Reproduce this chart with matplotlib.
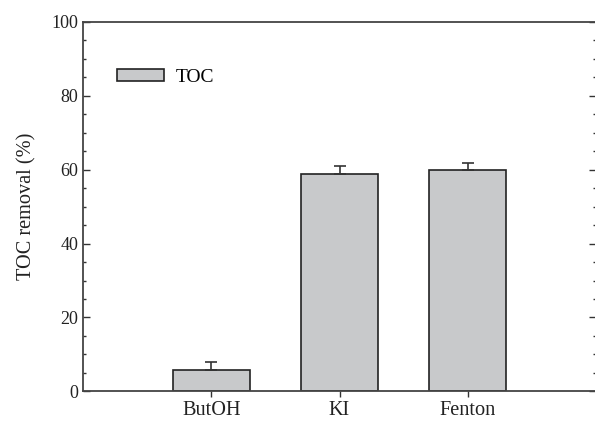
import numpy as np
import matplotlib.pyplot as plt
from matplotlib.ticker import MultipleLocator

plt.rcParams['font.family'] = ['Liberation Serif', 'DejaVu Serif']
plt.rcParams['font.size'] = 13

# TOC removal for each scavenger / system
labels = ['ButOH', 'KI', 'Fenton']
toc_removal = [5.9, 58.9, 59.8]
toc_err = [2.0, 2.2, 2.1]

x = np.arange(1, len(labels) + 1)

fig = plt.figure(figsize=(5.95, 4.21), dpi=100)
ax = fig.add_axes([83 / 595, 1 - 391.3 / 421, (596 - 83) / 595, (391.3 - 22) / 421])

ax.bar(x, toc_removal, width=0.6, color='#c8c9cb', edgecolor='#222222',
       linewidth=1.2, label='TOC', zorder=2)
ax.errorbar(x, toc_removal, yerr=[np.zeros(len(toc_err)), toc_err], fmt='none',
            ecolor='#333333', elinewidth=1.2, capsize=4, capthick=1.2, zorder=3)

ax.set_xlim(0, 4)
ax.set_ylim(0, 100)
ax.set_xticks(x)
ax.set_xticklabels(labels, fontsize=14.6)
ax.yaxis.set_major_locator(MultipleLocator(20))
ax.yaxis.set_minor_locator(MultipleLocator(5))
ax.tick_params(axis='y', which='both', direction='in', right=True, left=True)
ax.tick_params(axis='y', which='major', length=5, width=1, colors='#333333', labelcolor='#222222')
ax.tick_params(axis='y', which='minor', length=2.5, width=1, colors='#333333')
ax.tick_params(axis='x', direction='out', length=4, width=1, colors='#333333',
               labelcolor='#222222', pad=3)
for side in ['left', 'bottom', 'top']:
    ax.spines[side].set_color('#444444')
    ax.spines[side].set_linewidth(1.3)
ax.spines['right'].set_visible(False)

ax.set_ylabel('TOC removal (%)', color='#222222', fontsize=14.6, labelpad=11)

leg = ax.legend(loc='upper left', bbox_to_anchor=(0.066, 0.874), frameon=False,
                fontsize=14, handlelength=2.4, handleheight=0.55, handletextpad=0.6,
                borderaxespad=0, borderpad=0)

fig.savefig('out.png', dpi=100)
